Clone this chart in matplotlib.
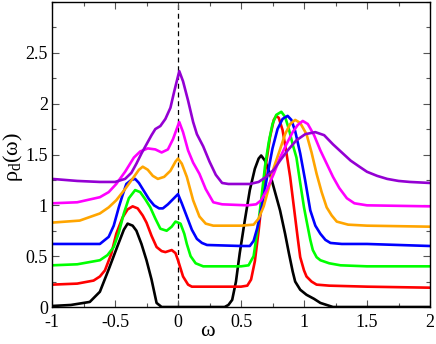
import matplotlib
matplotlib.use("Agg")
import matplotlib.pyplot as plt
from matplotlib.ticker import MultipleLocator, FormatStrFormatter

plt.rcParams['font.family'] = ['Liberation Serif', 'DejaVu Serif']
plt.rcParams['axes.unicode_minus'] = False

# spectral functions, each curve shifted up by 0.2
black_x = [-1, -0.85, -0.7, -0.62, -0.55, -0.48, -0.43, -0.40, -0.36, -0.33, -0.29, -0.25, -0.21, -0.17, -0.13,
           0.0, 0.2, 0.37, 0.40, 0.43, 0.46, 0.49, 0.53, 0.57, 0.61, 0.64, 0.66, 0.69, 0.73, 0.77, 0.81, 0.85,
           0.88, 0.91, 0.93, 0.97, 1.02, 1.08, 1.13, 1.18, 1.23, 1.5, 2.0]
black_y = [0.01, 0.02, 0.05, 0.15, 0.37, 0.60, 0.76, 0.82, 0.80, 0.75, 0.62, 0.46, 0.27, 0.04, 0.0,
           0.0, 0.0, 0.0, 0.02, 0.07, 0.25, 0.53, 0.85, 1.15, 1.36, 1.46, 1.49, 1.44, 1.31, 1.13, 0.95, 0.72,
           0.53, 0.35, 0.25, 0.17, 0.12, 0.08, 0.04, 0.02, 0.0, 0.0, 0.0]

red_x = [-1, -0.8, -0.67, -0.62, -0.58, -0.53, -0.49, -0.44, -0.40, -0.36, -0.32, -0.28, -0.25, -0.21, -0.17,
         -0.13, -0.10, -0.05, -0.02, 0.0, 0.04, 0.08, 0.11, 0.2, 0.5, 0.55, 0.58, 0.61, 0.64, 0.67, 0.70, 0.73,
         0.76, 0.78, 0.80, 0.83, 0.86, 0.89, 0.92, 0.95, 0.97, 1.0, 1.02, 1.06, 1.10, 1.2, 1.5, 2.0]
red_y = [0.22, 0.23, 0.26, 0.30, 0.36, 0.52, 0.72, 0.88, 0.96, 0.99, 0.97, 0.90, 0.83, 0.70, 0.59,
         0.55, 0.54, 0.56, 0.53, 0.46, 0.30, 0.22, 0.20, 0.20, 0.20, 0.21, 0.27, 0.45, 0.75, 1.10, 1.42, 1.67,
         1.84, 1.88, 1.86, 1.74, 1.52, 1.28, 0.98, 0.68, 0.49, 0.36, 0.30, 0.25, 0.22, 0.21, 0.20, 0.19]

green_x = [-1, -0.8, -0.62, -0.56, -0.51, -0.47, -0.43, -0.39, -0.34, -0.30, -0.26, -0.22, -0.18, -0.14, -0.09,
           -0.05, -0.02, 0.02, 0.05, 0.07, 0.10, 0.14, 0.20, 0.5, 0.56, 0.60, 0.63, 0.66, 0.69, 0.72, 0.75, 0.78,
           0.82, 0.85, 0.88, 0.91, 0.94, 0.97, 1.00, 1.02, 1.05, 1.07, 1.10, 1.13, 1.2, 1.29, 1.5, 2.0]
green_y = [0.41, 0.42, 0.46, 0.51, 0.59, 0.73, 0.92, 1.07, 1.15, 1.13, 1.06, 0.98, 0.87, 0.77, 0.75,
           0.79, 0.84, 0.82, 0.72, 0.62, 0.50, 0.43, 0.40, 0.40, 0.41, 0.50, 0.75, 1.05, 1.38, 1.62, 1.80, 1.89,
           1.92, 1.87, 1.75, 1.60, 1.47, 1.22, 0.98, 0.85, 0.66, 0.56, 0.49, 0.46, 0.43, 0.41, 0.40, 0.40]

blue_x = [-1, -0.8, -0.62, -0.55, -0.51, -0.47, -0.44, -0.41, -0.37, -0.34, -0.31, -0.27, -0.23, -0.19, -0.15,
          -0.12, -0.08, -0.04, 0.0, 0.03, 0.07, 0.11, 0.15, 0.19, 0.23, 0.5, 0.57, 0.60, 0.63, 0.67, 0.71, 0.75,
          0.79, 0.83, 0.87, 0.90, 0.93, 0.97, 1.01, 1.05, 1.09, 1.13, 1.17, 1.21, 1.3, 1.5, 2.0]
blue_y = [0.62, 0.62, 0.62, 0.69, 0.80, 0.98, 1.10, 1.21, 1.25, 1.26, 1.22, 1.14, 1.06, 1.00, 0.97,
          0.97, 1.01, 1.06, 1.11, 1.02, 0.89, 0.76, 0.67, 0.63, 0.61, 0.60, 0.60, 0.65, 0.78, 1.02, 1.30, 1.56,
          1.75, 1.85, 1.88, 1.84, 1.73, 1.51, 1.24, 0.95, 0.80, 0.72, 0.66, 0.63, 0.62, 0.62, 0.60]

orange_x = [-1, -0.78, -0.62, -0.55, -0.49, -0.42, -0.35, -0.31, -0.28, -0.24, -0.20, -0.16, -0.11, -0.06, -0.02,
            0.0, 0.03, 0.07, 0.12, 0.17, 0.22, 0.28, 0.5, 0.60, 0.64, 0.68, 0.72, 0.76, 0.81, 0.85, 0.89, 0.93,
            0.97, 1.02, 1.06, 1.10, 1.14, 1.18, 1.22, 1.26, 1.35, 1.5, 2.0]
orange_y = [0.83, 0.85, 0.92, 0.98, 1.05, 1.16, 1.28, 1.35, 1.38, 1.35, 1.29, 1.26, 1.28, 1.34, 1.43,
            1.46, 1.41, 1.28, 1.05, 0.89, 0.82, 0.80, 0.80, 0.81, 0.87, 0.99, 1.17, 1.37, 1.55, 1.70, 1.80, 1.84,
            1.81, 1.70, 1.52, 1.31, 1.13, 0.98, 0.90, 0.84, 0.81, 0.80, 0.79]

magenta_x = [-1, -0.8, -0.62, -0.55, -0.49, -0.42, -0.35, -0.30, -0.24, -0.18, -0.13, -0.08, -0.04, 0.01, 0.04,
             0.08, 0.12, 0.17, 0.22, 0.28, 0.35, 0.55, 0.62, 0.66, 0.70, 0.76, 0.81, 0.86, 0.91, 0.95, 0.99,
             1.03, 1.08, 1.13, 1.18, 1.23, 1.28, 1.34, 1.40, 1.5, 2.0]
magenta_y = [1.02, 1.03, 1.08, 1.13, 1.21, 1.33, 1.47, 1.53, 1.56, 1.55, 1.52, 1.55, 1.65, 1.82, 1.72,
             1.54, 1.42, 1.31, 1.16, 1.03, 1.01, 1.00, 1.01, 1.05, 1.14, 1.31, 1.47, 1.60, 1.72, 1.79, 1.83,
             1.80, 1.69, 1.54, 1.41, 1.28, 1.17, 1.07, 1.02, 1.00, 0.99]

purple_x = [-1, -0.8, -0.62, -0.5, -0.42, -0.37, -0.33, -0.29, -0.25, -0.21, -0.18, -0.14, -0.10, -0.06, -0.03,
            0.01, 0.04, 0.08, 0.12, 0.15, 0.20, 0.25, 0.30, 0.35, 0.40, 0.57, 0.64, 0.70, 0.76, 0.81, 0.87,
            0.94, 1.01, 1.09, 1.16, 1.23, 1.30, 1.37, 1.44, 1.50, 1.58, 1.66, 1.75, 1.84, 2.0]
purple_y = [1.26, 1.24, 1.23, 1.23, 1.26, 1.32, 1.41, 1.51, 1.60, 1.69, 1.75, 1.78, 1.85, 1.96, 2.12,
            2.32, 2.22, 2.03, 1.82, 1.70, 1.58, 1.43, 1.30, 1.22, 1.21, 1.21, 1.23, 1.28, 1.35, 1.44, 1.54,
            1.64, 1.70, 1.72, 1.69, 1.60, 1.52, 1.44, 1.38, 1.33, 1.29, 1.26, 1.24, 1.23, 1.22]

curves = [
    (black_x, black_y, 'black'),
    (red_x, red_y, '#ff0000'),
    (green_x, green_y, '#00ff00'),
    (blue_x, blue_y, '#0000ff'),
    (orange_x, orange_y, '#ffa500'),
    (magenta_x, magenta_y, '#ff00ff'),
    (purple_x, purple_y, '#9400d3'),
]

fig = plt.figure(figsize=(4.36, 3.44), dpi=100)
ax = fig.add_axes([52 / 436, 1 - 307 / 344, 378 / 436, 305 / 344])

ax.axvline(0, color='black', lw=0.9, ls=(0, (4, 3)), zorder=1)
for x, y, c in curves:
    ax.plot(x, y, color=c, lw=1.9, solid_joinstyle='round', zorder=2)

ax.set_xlim(-1, 2)
ax.set_ylim(0, 3)
ax.set_yticks([0, 0.5, 1, 1.5, 2, 2.5])
ax.xaxis.set_major_locator(MultipleLocator(0.5))
ax.xaxis.set_minor_locator(MultipleLocator(0.25))
ax.yaxis.set_minor_locator(MultipleLocator(0.25))
ax.xaxis.set_major_formatter(FormatStrFormatter('%g'))
ax.yaxis.set_major_formatter(FormatStrFormatter('%g'))
ax.tick_params(which='both', direction='in', top=True, right=True, labelsize=13, color='#555555')
ax.tick_params(which='major', length=5, width=0.8)
ax.tick_params(which='minor', length=3, width=0.8)
ax.tick_params(axis='x', pad=5)
ax.tick_params(axis='y', pad=3)
for s in ax.spines.values():
    s.set_linewidth(1.0)

ax.set_xlabel('ω', fontsize=16)
ax.xaxis.set_label_coords((207 - 52) / 378, -0.05)
ax.set_ylabel(r'$\mathregular{\rho_d(\omega)}$', fontsize=16)
ax.yaxis.set_label_coords(-0.072, (307 - 157) / 305)

fig.savefig('out.png', dpi=100)
